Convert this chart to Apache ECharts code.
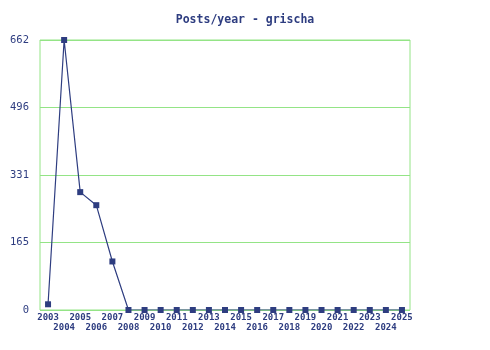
<!DOCTYPE html>
<html><head><meta charset="utf-8">
<script src="https://cdn.jsdelivr.net/npm/echarts@6/dist/echarts.min.js"></script>
<style>html,body{margin:0;padding:0;background:#fff}#c{width:490px;height:350px}</style>
</head><body><div id="c"></div>
<script>
const years = ['2003','2004','2005','2006','2007','2008','2009','2010','2011','2012','2013','2014','2015','2016','2017','2018','2019','2020','2021','2022','2023','2024','2025'];
const posts = [14,662,289,257,119,0,0,0,0,0,0,0,0,0,0,0,0,0,0,0,0,0,0];
const yMax = 662;
const titleText = 'Posts/year - grischa';
const navy = '#2e3d80';
const green = '#94e486';
const chart = echarts.init(document.getElementById('c'), null, {renderer:'canvas'});
chart.setOption({
  animation:false,
  title:{text:titleText,left:'center',top:9,textStyle:{fontFamily:'DejaVu Sans Mono',fontSize:11.5,fontWeight:'bold',color:navy}},
  grid:{left:40,right:80,top:40,bottom:40,show:true,borderColor:green,borderWidth:1},
  xAxis:{type:'category',data:years,boundaryGap:true,
    axisLine:{show:false},axisTick:{show:false},
    axisLabel:{interval:0,margin:3,fontFamily:'DejaVu Sans Mono',fontSize:9,fontWeight:'bold',color:navy,lineHeight:10,
      formatter:(v,i)=> i%2===1 ? '\n'+v : v}},
  yAxis:{type:'value',min:0,max:yMax,interval:yMax/4,
    axisLine:{show:false},axisTick:{show:false},
    splitLine:{lineStyle:{color:green,width:1}},
    axisLabel:{margin:11,fontFamily:'DejaVu Sans Mono',fontSize:10.5,color:navy,formatter:v=>String(Math.floor(v))}},
  series:[{type:'line',data:posts,symbol:'rect',symbolSize:6,
    lineStyle:{color:navy,width:1.2},itemStyle:{color:navy}}]
});
</script></body></html>
